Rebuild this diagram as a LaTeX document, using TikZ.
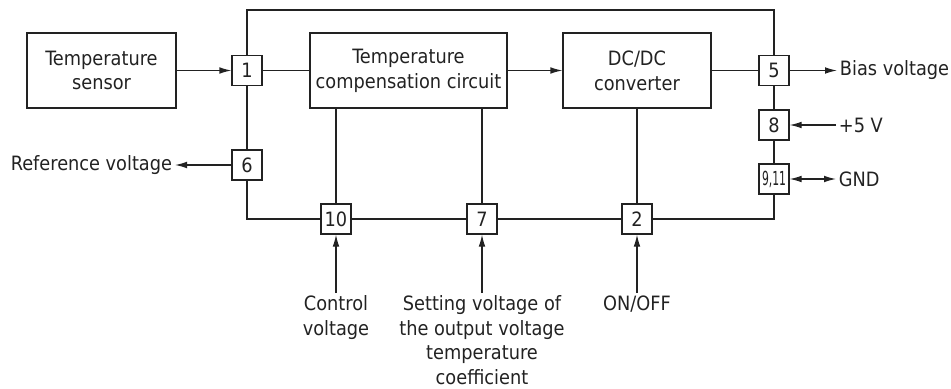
\documentclass[tikz,border=0pt]{standalone}
\usepackage{fontspec}
\setmainfont{DejaVu Sans Condensed}
\usepackage{graphicx}
\usetikzlibrary{arrows.meta, positioning}
\definecolor{lineDark}{HTML}{222222}

\begin{document}
\begin{tikzpicture}[x=0.75pt, y=-0.75pt,
    block/.style={rectangle, draw=lineDark, line width=0.9pt, minimum height=56.25pt,
                  align=center, text=lineDark, font=\fontsize{14.8}{18.6}\selectfont},
    pin/.style={rectangle, draw=lineDark, line width=0.9pt, minimum size=22.5pt, inner sep=0pt,
                text=lineDark, font=\fontsize{14.8}{16}\selectfont},
    sig/.style={inner sep=2pt, align=center, text=lineDark, font=\fontsize{14.8}{18.4}\selectfont},
    wire/.style={draw=lineDark, line width=0.9pt},
    arrow/.style={wire, -{Latex[length=9pt, width=5pt]}},
]
\useasboundingbox (0,0) rectangle (951,389);

% Function blocks
\node[block, minimum width=111.75pt] (sensor) at (101.5,70.5) {Temperature\\sensor};
\node[block, minimum width=147.75pt] (comp) at (408.5,70.5) {Temperature\\compensation circuit};
\node[block, minimum width=111pt] (dcdc) at (637,70.5) {DC/DC\\converter};

% Pins
\node[pin] (p1) at (247,70.5) {1};
\node[pin] (p6) at (247,165) {6};
\node[pin] (p5) at (774,70.5) {5};
\node[pin] (p8) at (774,125) {8};
\node[pin] (p911) at (774,179) {\fontsize{14.5}{15}\selectfont\scalebox{0.62}[1]{9,11}};
\node[pin] (p10) at (336,219) {10};
\node[pin] (p7) at (482,219) {7};
\node[pin] (p2) at (637,219) {2};

% Outer frame
\coordinate (topleft) at (247,10);
\coordinate (topright) at (774,10);
\draw[wire] (p1.north) -- (topleft) -- (topright) -- (p5.north);
\draw[wire] (p1.south) -- (p6.north);
\draw[wire] (p5.south) -- (p8.north);
\draw[wire] (p8.south) -- (p911.north);
\draw[wire] (p6.south) |- (p10.west);
\draw[wire] (p10.east) -- (p7.west);
\draw[wire] (p7.east) -- (p2.west);
\draw[wire] (p2.east) -| (p911.south);

% Signal path
\draw[arrow] (sensor) -- (p1);
\draw[wire] (p1) -- (comp);
\draw[arrow] (comp) -- (dcdc);
\draw[wire] (dcdc) -- (p5);
\draw[wire] (p10.north) -- (p10.north |- comp.south);
\draw[wire] (p7.north) -- (p7.north |- comp.south);
\draw[wire] (p2.north) -- (p2.north |- dcdc.south);

% External signals
\node[sig, anchor=east] (refv) at (175,165) {Reference voltage};
\node[sig, anchor=west] (bias) at (837,70.5) {Bias voltage};
\node[sig, anchor=west] (vcc) at (836,125) {+5 V};
\node[sig, anchor=west] (gnd) at (836,179) {GND};
\node[sig, anchor=north] (ctrl) at (336,293) {Control\\voltage};
\node[sig, anchor=north] (tcset) at (482,293) {Setting voltage of\\the output voltage\\temperature\\coefficient};
\node[sig, anchor=north] (onoff) at (637,293) {ON/OFF};
\draw[arrow] (p6) -- (refv);
\draw[arrow] (p5) -- (bias);
\draw[arrow] (vcc) -- (p8);
\draw[arrow, {Latex[length=9pt, width=5pt]}-{Latex[length=9pt, width=5pt]}] (p911) -- (gnd);
\draw[arrow] (ctrl) -- (p10);
\draw[arrow] (tcset) -- (p7);
\draw[arrow] (onoff) -- (p2);
\end{tikzpicture}
\end{document}
